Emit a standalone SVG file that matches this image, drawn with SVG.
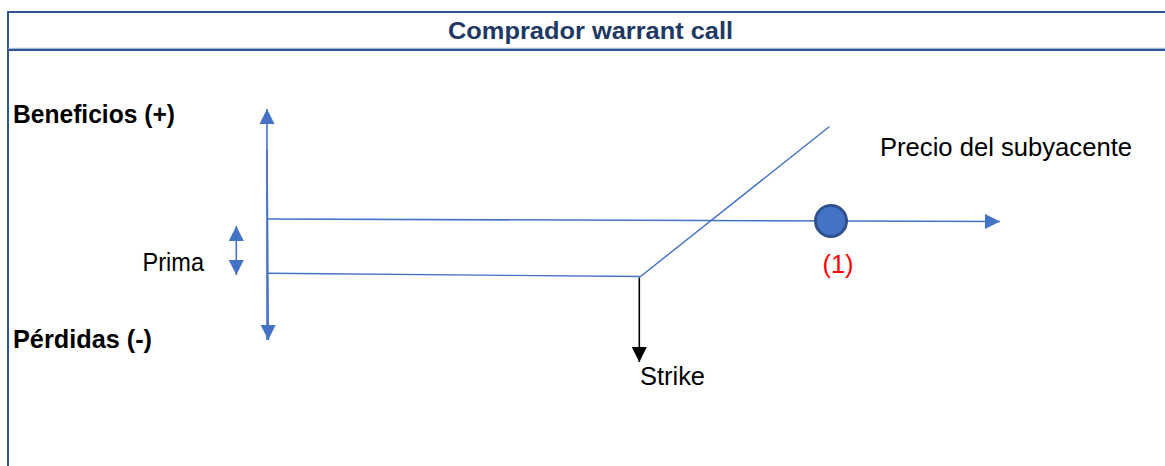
<svg xmlns="http://www.w3.org/2000/svg" width="1165" height="466" viewBox="0 0 1165 466">
  <style>
    .frame { stroke: #2F5597; stroke-width: 2; fill: none; }
    .axis { stroke: #4472C4; stroke-width: 1.6; fill: none; }
    .curve { stroke: #4472C4; stroke-width: 1.4; fill: none; }
    .strike { stroke: #000000; stroke-width: 1.6; fill: none; }
    .lbl { font-family: "Liberation Sans", Arial, sans-serif; font-size: 25px; fill: #000000; }
    .bold { font-weight: bold; }
    .title { font-family: "Liberation Sans", Arial, sans-serif; font-size: 24px; font-weight: bold; fill: #203864; }
  </style>
  <defs>
    <marker id="arrBlue" viewBox="0 0 10 10" refX="10" refY="5" markerWidth="15" markerHeight="15" markerUnits="userSpaceOnUse" orient="auto-start-reverse">
      <path d="M0,0 L10,5 L0,10 Z" fill="#4472C4"/>
    </marker>
    <marker id="arrBlack" viewBox="0 0 10 10" refX="10" refY="5" markerWidth="15" markerHeight="15" markerUnits="userSpaceOnUse" orient="auto">
      <path d="M0,0 L10,5 L0,10 Z" fill="#000000"/>
    </marker>
  </defs>

  <rect width="1165" height="466" fill="#FFFFFF"/>

  <!-- panel frame and title bar -->
  <g id="frame">
    <path class="frame" d="M1166,12 L8,12 L8,467"/>
    <line x1="8" y1="48.3" x2="1166" y2="48.3" stroke="#8FAADC" stroke-width="1"/>
    <line class="frame" x1="8" y1="50" x2="1166" y2="50"/>
  </g>
  <g id="title">
    <text class="title" x="590.5" y="39" text-anchor="middle" textLength="285" lengthAdjust="spacingAndGlyphs">Comprador warrant call</text>
  </g>

  <!-- connectors: axes, payoff line, strike marker -->
  <g id="connectors">
    <line class="axis" x1="267" y1="340" x2="267" y2="109" marker-end="url(#arrBlue)"/>
    <line class="axis" x1="267" y1="150" x2="268.3" y2="340" marker-end="url(#arrBlue)"/>
    <line class="axis" x1="236.3" y1="226" x2="236.3" y2="275" marker-start="url(#arrBlue)" marker-end="url(#arrBlue)"/>
    <line class="axis" x1="268" y1="219" x2="1000" y2="221.5" marker-end="url(#arrBlue)"/>
    <polyline class="curve" points="268,273.3 640.5,276.5 829.5,126.5"/>
    <line class="strike" x1="639.3" y1="277.5" x2="639.3" y2="362" marker-end="url(#arrBlack)"/>
  </g>

  <!-- point (1) on the price axis -->
  <g id="point1">
    <circle cx="831" cy="221" r="15.5" fill="#4472C4" stroke="#2F528F" stroke-width="3"/>
    <text class="lbl" x="838" y="273" text-anchor="middle" style="fill:#FF0000" textLength="31" lengthAdjust="spacingAndGlyphs">(1)</text>
  </g>

  <g id="label-beneficios">
    <text class="lbl bold" x="13" y="123" textLength="162" lengthAdjust="spacingAndGlyphs">Beneficios (+)</text>
  </g>
  <g id="label-perdidas">
    <text class="lbl bold" x="13" y="348" textLength="139" lengthAdjust="spacingAndGlyphs">Pérdidas (-)</text>
  </g>
  <g id="label-prima">
    <text class="lbl" x="142.5" y="271" textLength="61.5" lengthAdjust="spacingAndGlyphs">Prima</text>
  </g>
  <g id="label-precio">
    <text class="lbl" x="880" y="156" textLength="252" lengthAdjust="spacingAndGlyphs">Precio del subyacente</text>
  </g>
  <g id="label-strike">
    <text class="lbl" x="640" y="385" textLength="65" lengthAdjust="spacingAndGlyphs">Strike</text>
  </g>
</svg>
